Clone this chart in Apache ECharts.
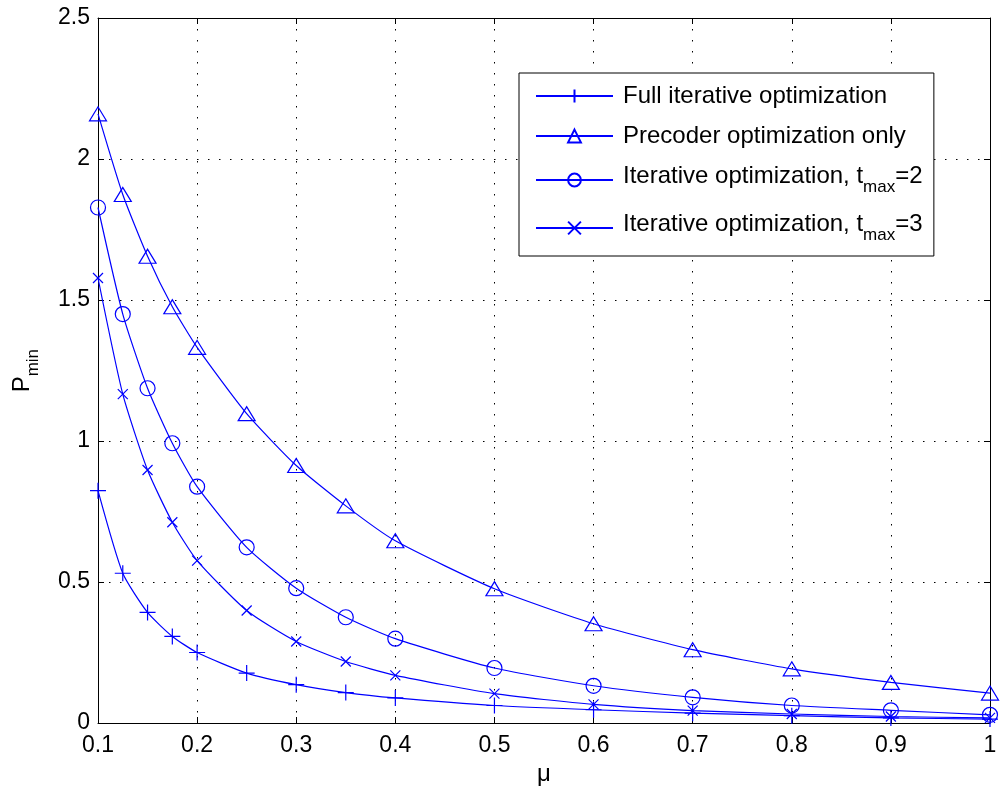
<!DOCTYPE html>
<html>
<head>
<meta charset="utf-8">
<script src="https://cdn.jsdelivr.net/npm/echarts@6/dist/echarts.min.js"></script>
<style>
  html, body { margin: 0; padding: 0; background: #fff; }
  #chart { width: 1002px; height: 791px; }
</style>
</head>
<body>
<div id="chart"></div>
<script>
// Step size mu at which P_min was evaluated
const mu = [0.1, 0.125, 0.15, 0.175, 0.2, 0.25, 0.3, 0.35, 0.4, 0.5, 0.6, 0.7, 0.8, 0.9, 1.0];

// Minimum power P_min for each scheme
const fullIterative = [0.824, 0.531, 0.392, 0.307, 0.250, 0.177, 0.136, 0.108, 0.089, 0.062, 0.047, 0.035, 0.026, 0.018, 0.014];
const precoderOnly  = [2.160, 1.874, 1.655, 1.476, 1.332, 1.097, 0.913, 0.770, 0.646, 0.476, 0.352, 0.260, 0.192, 0.144, 0.106];
const iterT2        = [1.828, 1.450, 1.187, 0.992, 0.838, 0.623, 0.478, 0.375, 0.299, 0.195, 0.132, 0.091, 0.062, 0.045, 0.029];
const iterT3        = [1.578, 1.166, 0.897, 0.712, 0.576, 0.399, 0.289, 0.218, 0.169, 0.104, 0.066, 0.044, 0.032, 0.023, 0.018];

const seriesNames = [
  'Full iterative optimization',
  'Precoder optimization only',
  'Iterative optimization, t_max=2',
  'Iterative optimization, t_max=3'
];

const xTicks = { min: 0.1, max: 1, step: 0.1 };
const yTicks = { min: 0, max: 2.5, step: 0.5 };

const BLUE = '#0000ff';
const FONT = '"Liberation Sans", Arial, Helvetica, sans-serif';

const PLUS = 'path://M0,5L10,5M5,0L5,10';
const CROSS = 'path://M0,0L10,10M10,0L0,10';

function lineSeries(name, values, symbol, size) {
  return {
    name: name,
    type: 'line',
    xAxisIndex: 0,
    yAxisIndex: 0,
    data: mu.map((m, i) => [m, values[i]]),
    symbol: symbol,
    symbolSize: size,
    showSymbol: true,
    smooth: 0.2,
    lineStyle: { color: BLUE, width: 1.2 },
    itemStyle: { color: 'rgba(0,0,0,0)', borderColor: BLUE, borderWidth: 1.2 },
    emphasis: { disabled: true },
    animation: false
  };
}

// Legend labels; "t_max" is drawn with a lowered subscript
function legendLabel(name) {
  const m = name.match(/^(.*), t_max(.*)$/);
  if (m) {
    return '{g|}{n|' + m[1] + ', t}{s|max}{n|' + m[2] + '}{v| }';
  }
  return '{g|}{n|' + name + '}';
}

function tickText(v) {
  return String(Math.round(v * 10) / 10);
}

// Rich styles for text with a subscript: main text sits at the top of a tall
// line, the subscript at its bottom, and a tiny spacer sets the line height.
function subRich(mainSize, subSize, mainLH, totalLH) {
  return {
    g: { width: 5 },
    n: { fontSize: mainSize, lineHeight: mainLH, verticalAlign: 'top', fontFamily: FONT, color: '#000' },
    p: { fontSize: mainSize, lineHeight: mainLH, verticalAlign: 'top', fontFamily: FONT, color: '#000' },
    s: { fontSize: subSize, lineHeight: subSize, verticalAlign: 'bottom', fontFamily: FONT, color: '#000' },
    v: { fontSize: 1, lineHeight: totalLH, verticalAlign: 'bottom' }
  };
}

const axisCommon = {
  axisLine: { show: true, onZero: false, lineStyle: { color: '#000', width: 1 } },
  axisTick: { show: true, inside: true, length: 6, lineStyle: { color: '#000', width: 1 } }
};

const gridLine = { show: true, lineStyle: { color: '#000', width: 1, type: [1.5, 9.5] } };

const chart = echarts.init(document.getElementById('chart'), null, { renderer: 'canvas' });

chart.setOption({
  animation: false,
  backgroundColor: '#fff',
  textStyle: { fontFamily: FONT },
  grid: { left: 98, right: 12, top: 18, bottom: 68, containLabel: false },
  xAxis: [
    Object.assign({
      type: 'value', position: 'bottom',
      min: xTicks.min, max: xTicks.max, interval: xTicks.step,
      axisLabel: { show: true, color: '#000', fontSize: 23, fontFamily: FONT, margin: 11, formatter: tickText },
      splitLine: gridLine,
      name: 'μ', nameLocation: 'middle', nameGap: 39,
      nameTextStyle: { color: '#000', fontSize: 24, fontFamily: FONT }
    }, axisCommon),
    Object.assign({
      type: 'value', position: 'top',
      min: xTicks.min, max: xTicks.max, interval: xTicks.step,
      axisLabel: { show: false }, splitLine: { show: false }
    }, axisCommon)
  ],
  yAxis: [
    Object.assign({
      type: 'value', position: 'left',
      min: yTicks.min, max: yTicks.max, interval: yTicks.step,
      axisLabel: { show: true, color: '#000', fontSize: 23, fontFamily: FONT, margin: 8, formatter: tickText },
      splitLine: gridLine,
      name: '{p|P}{s|min}{v| }', nameLocation: 'middle', nameGap: 56, nameRotate: 90,
      nameTextStyle: {
        color: '#000', fontFamily: FONT,
        rich: subRich(24, 17, 24, 32)
      }
    }, axisCommon),
    Object.assign({
      type: 'value', position: 'right',
      min: yTicks.min, max: yTicks.max, interval: yTicks.step,
      axisLabel: { show: false }, splitLine: { show: false }
    }, axisCommon)
  ],
  legend: {
    show: true,
    orient: 'vertical',
    left: 519,
    top: 73,
    padding: [11, 11, 12, 16],
    itemGap: 16,
    itemWidth: 77,
    itemHeight: 16,
    backgroundColor: '#fff',
    borderColor: '#000',
    borderWidth: 1,
    borderRadius: 0,
    selectedMode: false,
    data: seriesNames,
    formatter: legendLabel,
    textStyle: {
      color: '#000', fontFamily: FONT, fontSize: 24,
      rich: subRich(24, 17, 23, 32)
    }
  },
  series: [
    lineSeries(seriesNames[0], fullIterative, PLUS, 16),
    lineSeries(seriesNames[1], precoderOnly, 'triangle', [17, 14]),
    lineSeries(seriesNames[2], iterT2, 'circle', 15),
    lineSeries(seriesNames[3], iterT3, CROSS, 10)
  ]
});
</script>
</body>
</html>
